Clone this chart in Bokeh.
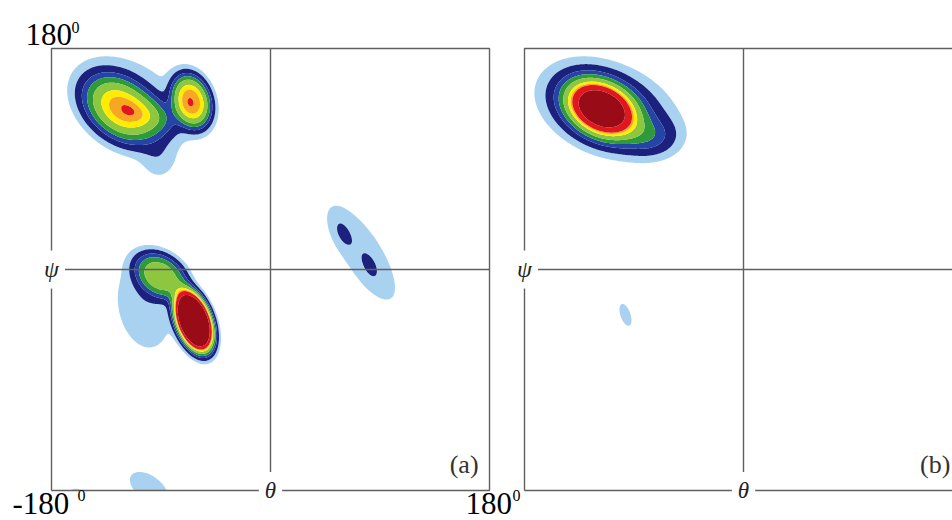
import numpy as np
from bokeh.plotting import figure
from bokeh.models import Label, Range1d
from bokeh.embed import file_html
from bokeh.resources import INLINE

# axis limits (degrees) and tick labels
lim = [-180, 180]
tick_lo = "-180"
tick_hi = "180"
tick_sup = "0"

# contour levels (outer -> inner) and their fill colours
levels = [0.022, 0.05, 0.097, 0.146, 0.21, 0.30, 0.36, 0.40, 0.58, 10.0]
colors = ["#a9d2f1", "#1b217d", "#2444a6", "#2f9a3c", "#8dc63f",
          "#ffec00", "#f7a823", "#e2171e", "#990b17"]

# panel (a) density components:
# centre theta, centre psi, spread theta, spread psi, correlation, height, sharpness
a_cx = [-123, -65, -95, -105, -92, -63, -90, -104, 76, 59, 82, -100, -160]
a_cy = [131, 137, 125, 140, 90, -42, -5, -30, 13, 30, 2, -178, -183]
a_sx = [21, 12, 14, 40, 10, 10.4, 16, 18, 24, 6, 6, 13, 6]
a_sy = [19, 16, 10, 35, 12, 16.4, 14, 28, 34, 9, 9, 11, 4]
a_rho = [-0.35, -0.2, -0.3, -0.3, 0.0, -0.4, -0.3, -0.2, -0.75, -0.5, -0.5, -0.5, 0.0]
a_amp = [0.365, 0.385, 0.10, 0.025, 0.03, 1.5, 0.25, 0.045, 0.04, 0.03, 0.022, 0.045, 0.04]
a_k = [1.25, 1.5, 1, 1, 1, 1.4, 1.5, 1, 1, 1, 1, 1, 1]

# panel (b) density components
b_cx = [-117, -111, -76, -113, -97]
b_cy = [131, 129, 108, 138, -37]
b_sx = [16, 28, 14, 34, 5]
b_sy = [13, 19, 10, 23, 9]
b_rho = [-0.3, -0.3, 0.0, -0.3, -0.5]
b_amp = [0.9, 0.14, 0.08, 0.03, 0.036]
b_k = [1, 1, 1, 1, 1]

theta = np.linspace(-180, 180, 361)
psi = np.linspace(-180, 180, 361)
GX, GY = np.meshgrid(theta, psi)


def density(cx, cy, sx, sy, rho, amp, kk):
    z = np.zeros_like(GX)
    for x0, y0, s1, s2, r, a, k in zip(cx, cy, sx, sy, rho, amp, kk):
        dx = (GX - x0) / s1
        dy = (GY - y0) / s2
        q = (dx * dx - 2 * r * dx * dy + dy * dy) / (1 - r * r)
        z += a * np.exp(-0.5 * q ** k)
    return z


LINE = "#5f5f5f"
SERIF = "Liberation Serif"

# one canvas, frame = whole canvas; panel (a) on the default x range,
# panel (b) on its own x range "b"
p = figure(width=952, height=520,
           x_range=Range1d(-221.92, 560.53), y_range=Range1d(-204.44, 219.10),
           x_axis_location=None, y_axis_location=None,
           toolbar_location=None, output_backend="svg",
           min_border_left=0, min_border_right=0, min_border_top=0, min_border_bottom=0)
p.extra_x_ranges = {"b": Range1d(-610.68, 171.78)}
p.outline_line_color = None
p.grid.visible = False
p.background_fill_color = "white"
p.border_fill_color = "white"

za = density(a_cx, a_cy, a_sx, a_sy, a_rho, a_amp, a_k)
zb = density(b_cx, b_cy, b_sx, b_sy, b_rho, b_amp, b_k)

lo, hi = lim
for z, rng, tag in [(za, "default", "(a)"), (zb, "b", "(b)")]:
    cr = p.contour(theta, psi, z, levels=levels, fill_color=colors, line_color=None)
    cr.x_range_name = rng
    cr.fill_renderer.x_range_name = rng
    cr.line_renderer.x_range_name = rng
    p.multi_line(xs=[[lo, hi, hi, lo, lo], [0, 0], [lo, hi]],
                 ys=[[lo, lo, hi, hi, lo], [lo, hi], [0, 0]],
                 line_color=LINE, line_width=1.4, x_range_name=rng)
    p.add_layout(Label(x=0, y=lo, text="θ", text_font=SERIF, text_font_style="italic",
                       text_font_size="23px", text_align="center", text_baseline="middle",
                       text_color="#222222", background_fill_color="white", padding=6,
                       x_range_name=rng))
    p.add_layout(Label(x=lo, y=0, text="ψ", text_font=SERIF, text_font_style="italic",
                       text_font_size="24px", text_align="center", text_baseline="middle",
                       text_color="#222222", background_fill_color="white", padding=6,
                       x_range_name=rng))
    p.add_layout(Label(x=171 if tag == "(a)" else 170, y=-158.8, text=tag, text_font=SERIF,
                       text_font_size="26px", text_align="right", text_baseline="middle",
                       text_color="#333333", x_range_name=rng))

big = "31px"
small = "16px"
# top-left 180^0
p.add_layout(Label(x=-201.4, y=191.0, text=tick_hi, text_font=SERIF, text_font_size=big,
                   text_baseline="middle", text_color="black"))
p.add_layout(Label(x=-163.6, y=197.5, text=tick_sup, text_font=SERIF, text_font_size=small,
                   text_baseline="middle", text_color="black"))
# bottom-left -180^0
p.add_layout(Label(x=-212.1, y=-190.8, text=tick_lo, text_font=SERIF, text_font_size=big,
                   text_baseline="middle", text_color="black"))
p.add_layout(Label(x=-158.6, y=-184.1, text=tick_sup, text_font=SERIF, text_font_size=small,
                   text_baseline="middle", text_color="black"))
# bottom-right 180^0
p.add_layout(Label(x=160.3, y=-190.8, text=tick_hi, text_font=SERIF, text_font_size=big,
                   text_baseline="middle", text_color="black"))
p.add_layout(Label(x=198.9, y=-184.1, text=tick_sup, text_font=SERIF, text_font_size=small,
                   text_baseline="middle", text_color="black"))

open("out.html", "w").write(file_html(p, INLINE))
